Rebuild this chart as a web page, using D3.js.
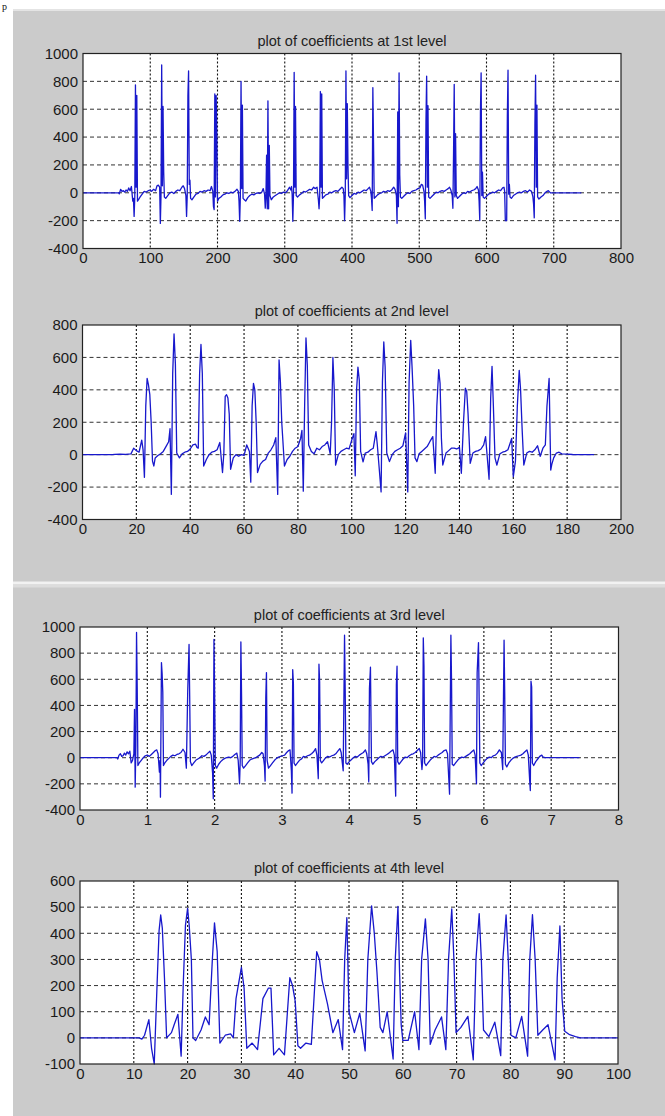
<!DOCTYPE html>
<html>
<head>
<meta charset="utf-8">
<script src="https://cdn.jsdelivr.net/npm/d3@7"></script>
<style>
  html, body { margin: 0; padding: 0; background: #fff; }
  svg { display: block; }
</style>
</head>
<body>
<svg id="chart" width="665" height="1116"></svg>
<script>
// titles and ticks
const titles = [
  "plot of coefficients at 1st level",
  "plot of coefficients at 2nd level",
  "plot of coefficients at 3rd level",
  "plot of coefficients at 4th level"
];
const xTicks1 = [0, 100, 200, 300, 400, 500, 600, 700, 800];
const yTicks1 = [-400, -200, 0, 200, 400, 600, 800, 1000];
const xTicks2 = [0, 20, 40, 60, 80, 100, 120, 140, 160, 180, 200];
const yTicks2 = [-400, -200, 0, 200, 400, 600, 800];
const xTicks3 = [0, 1, 2, 3, 4, 5, 6, 7, 8];
const yTicks3 = [-400, -200, 0, 200, 400, 600, 800, 1000];
const xTicks4 = [0, 10, 20, 30, 40, 50, 60, 70, 80, 90, 100];
const yTicks4 = [-100, 0, 100, 200, 300, 400, 500, 600];

// coefficients as [index, value]
const level1 = [
  [0,0],[53,0],[54,-8],[56,25],[58,10],[60,15],[62,5],[64,20],[66,10],[68,35],[70,15],[72,45],[74,-60],[75,-40],[76,-170],[77,-30],[78,775],[79,40],[80,700],[81,-60],[83,-45],[85,-30],[88,-10],[91,10],[94,5],[97,15],[100,20],[102,10],[105,25],[108,15],[110,50],[112,55],[114,40],
  [115,-220],[116,-20],[117,918],[118,50],[119,620],[120,150],[121,-30],[123,-40],[126,-20],[129,0],[132,5],[135,-5],[138,10],[141,20],[144,15],[147,40],[149,50],[151,30],[153,-20],
  [154,-170],[155,-20],[156,700],[157,875],[158,60],[159,90],[160,-40],[162,-50],[165,-30],[168,-10],[171,-5],[174,10],[177,5],[180,15],[183,10],[186,20],[189,15],[191,45],[193,10],[194,-100],
  [195,-120],[196,710],[197,-30],[198,700],[199,410],[200,-60],[202,-40],[205,-30],[208,-15],[211,-10],[214,0],[217,-5],[220,5],[223,0],[226,10],[229,25],[231,10],[232,-60],
  [233,-205],[234,-20],[235,800],[236,30],[237,630],[238,-40],[240,-50],[242,-60],[245,-35],[248,-20],[251,-10],[254,-15],[257,-5],[260,0],[263,-5],[266,5],[268,30],[270,-10],
  [271,-110],[272,-30],[273,270],[274,-115],[275,660],[276,-115],[277,340],[278,-20],[280,-50],[283,-30],[286,-20],[289,-10],[292,0],[295,-5],[298,5],[301,0],[304,15],[307,40],[309,20],[310,45],
  [311,-10],[312,-205],[313,-10],[314,865],[315,40],[316,620],[317,-20],[319,-30],[322,-15],[325,-5],[328,10],[331,5],[334,15],[337,25],[340,20],[343,40],[345,30],[348,40],[350,-50],
  [351,-115],[352,-20],[353,727],[354,40],[355,710],[356,-40],[358,-30],[361,-15],[364,-10],[367,5],[370,0],[373,10],[376,15],[379,10],[382,25],[385,40],[387,30],[388,-20],
  [389,-200],[390,-10],[391,875],[392,100],[393,640],[394,200],[395,-20],[397,-35],[400,-20],[403,-5],[406,-10],[409,5],[412,0],[415,10],[418,20],[421,15],[424,30],[426,40],[428,10],
  [429,-40],[430,-127],[431,755],[432,360],[433,-40],[435,-30],[438,-15],[441,-5],[444,0],[447,10],[450,5],[453,15],[456,10],[459,20],[462,40],[464,25],[466,-20],
  [467,-219],[468,580],[469,-100],[470,861],[471,130],[472,-30],[474,-40],[477,-25],[480,-10],[483,0],[486,-5],[489,10],[492,15],[495,20],[498,30],[501,35],[503,60],[505,55],[507,10],
  [508,-60],[509,-187],[510,520],[511,837],[512,40],[513,625],[514,-30],[516,-40],[519,-25],[522,-10],[525,5],[528,0],[531,10],[534,15],[537,10],[540,20],[543,30],[545,40],[547,20],[549,-20],
  [550,-111],[551,280],[552,779],[553,-30],[554,424],[555,-20],[557,-40],[560,-25],[563,-10],[566,0],[569,-5],[572,10],[575,5],[578,15],[581,20],[584,30],[586,45],[588,20],[589,-60],
  [590,-199],[591,580],[592,861],[593,-20],[594,148],[595,-30],[597,-40],[600,-25],[603,-10],[606,-5],[609,5],[612,0],[615,10],[618,20],[621,15],[624,35],[626,40],[627,10],
  [628,-200],[630,-200],[631,550],[632,880],[633,-10],[634,60],[635,-30],[637,-40],[640,-20],[643,-10],[646,0],[649,5],[652,0],[655,10],[658,15],[661,5],[664,20],[667,10],[669,-30],
  [670,-80],[671,-180],[672,500],[673,844],[674,40],[675,630],[676,-30],[678,-45],[681,-30],[684,-20],[687,0],[690,10],[692,15],[694,5],[695,0],[741,0]
];

const level2 = [
  [0,0],[11,0],[12,2],[14,3],[16,2],[18,5],[19,40],[20,25],[21,15],[22,90],[22.5,30],[23,-140],[23.5,300],[24,470],[24.5,430],[25,370],[25.5,200],[26,-40],[26.5,-70],[27,-20],[28,-5],[29,5],[30,20],[31,50],[32,80],[32.5,160],[33,-245],[33.5,500],[34,745],[34.5,560],[35,10],[36,-20],[37,5],[38,15],[39,20],[40,35],[41,60],[42,65],[42.5,45],[43,40],[43.5,500],[44,680],[44.5,500],[45,-70],[46,-30],[47,0],[48,15],[49,20],[50,30],[51,75],[52,-110],[52.5,10],[53,360],[53.5,370],[54,350],[54.5,250],[55,-90],[56,-20],[57,0],[58,-10],[59,0],[60,-5],[61,60],[62,20],[62.5,-170],[63,300],[63.5,440],[64,400],[64.5,200],[65,-110],[66,-60],[67,-40],[68,-30],[69,10],[70,30],[71,60],[71.8,105],[72.5,-245],[73,585],[73.5,450],[74,200],[75,-70],[76,-30],[77,-10],[78,20],[79,40],[80,50],[81,100],[81.5,150],[82,-225],[82.5,300],[83,720],[83.5,550],[84,60],[85,20],[86,5],[87,40],[88,30],[89,50],[90,60],[91,80],[92,5],[92.5,200],[93,600],[93.5,400],[94,-65],[95,0],[96,20],[97,30],[98,40],
  [99,35],[100,90],[100.8,130],[101.3,-130],[101.8,400],[102.3,540],[102.8,460],[103.3,20],[104.2,-45],[105,10],[106,15],[107,30],[108,40],[109,142],[109.5,60],[110.9,-230],[111.4,450],[111.9,695],[112.4,540],[113,10],[114,-43],[115,0],[116,20],[117,30],[118,40],[119,55],[120,135],[120.8,-230],[121.3,450],[121.9,705],[122.4,540],[123,300],[123.5,-20],[124.2,-43],[125,5],[126,20],[127,35],[128,50],[129,80],[130.1,111],[131,-115],[131.6,300],[132.3,525],[132.8,440],[133.3,100],[133.8,-64],[135,10],[136,25],[137,40],[138,40],[139,35],[140,45],[140.7,-115],[141.5,200],[142.2,410],[142.7,390],[143.2,250],[144,-54],[145,10],[146,20],[147,25],[148,35],[149,60],[149.7,111],[151,-152],[151.6,350],[152.1,545],[152.6,300],[153.2,-20],[153.9,-64],[155,5],[156,15],[157,20],[158,30],[159.4,100],[160,-136],[160.8,-40],[161.5,300],[162.2,520],[162.7,400],[163.3,150],[163.9,-64],[165,10],[166,20],[167,15],[168,30],[169,55],[170,-10],[171,40],[171.9,60],[172.5,300],[173.3,470],[173.9,-95],[174.3,-60],[175,-20],[176,10],[177,15],[178,5],[180,3],[182,1],[190,0]
];

const level3 = [
  [0,0],[0.55,0],[0.56,-10],[0.58,20],[0.60,30],[0.62,10],[0.64,15],[0.66,35],[0.68,20],[0.70,45],[0.72,30],[0.74,50],[0.76,-40],[0.78,-20],[0.80,30],[0.81,370],[0.82,-225],[0.83,100],[0.84,958],[0.85,533],[0.86,-60],[0.88,-40],[0.91,-20],[0.94,0],[0.97,15],[1.00,20],[1.03,10],[1.06,25],[1.09,40],[1.12,55],[1.14,60],[1.16,30],[1.18,-110],[1.19,-20],[1.195,-302],[1.21,728],[1.22,644],[1.23,500],[1.24,-60],[1.26,-40],[1.29,-20],[1.32,-5],[1.35,10],[1.38,20],[1.41,15],[1.44,25],[1.47,30],[1.50,40],[1.53,65],[1.56,40],[1.58,-80],[1.60,500],[1.62,866],[1.63,444],[1.64,-30],[1.66,-60],[1.69,-40],[1.72,-20],[1.75,-10],[1.78,0],[1.81,15],[1.84,10],[1.87,20],[1.90,35],[1.93,50],[1.95,20],[1.97,-120],[1.98,-314],[1.99,906],[2.00,500],[2.01,-60],[2.03,-80],[2.06,-50],[2.09,-30],[2.12,-15],[2.15,-5],[2.18,0],[2.21,5],[2.24,0],[2.27,10],[2.30,25],[2.33,35],[2.35,-20],[2.37,-199],[2.38,-30],[2.39,886],[2.40,480],[2.41,-60],[2.43,-80],[2.46,-60],[2.49,-40],[2.52,-20],[2.55,-10],[2.58,-5],[2.61,0],[2.64,10],[2.67,20],[2.70,40],[2.72,30],[2.74,-60],[2.75,-179],[2.76,460],[2.77,651],[2.78,-20],[2.80,-80],[2.83,-60],[2.86,-40],[2.89,-20],[2.92,-5],[2.95,5],[2.98,10],[3.01,15],[3.04,20],[3.07,40],[3.10,55],[3.12,60],[3.14,-100],[3.15,-271],[3.16,674],[3.17,570],[3.18,-40],[3.20,-60],[3.23,-40],[3.26,-20],[3.29,-10],[3.32,10],[3.35,5],[3.38,15],[3.41,20],[3.44,30],[3.47,45],[3.50,70],[3.52,20],[3.54,-160],[3.55,715],[3.56,580],[3.57,-20],[3.59,-40],[3.62,-20],[3.65,0],[3.68,10],[3.71,5],[3.74,15],[3.77,20],[3.80,30],[3.83,50],[3.86,70],[3.88,40],[3.91,-100],[3.93,937],[3.94,510],[3.95,-40],[3.97,-50],[4.00,-30],[4.03,-15],[4.06,0],[4.09,10],[4.12,5],[4.15,20],[4.18,30],[4.21,40],[4.24,60],[4.26,30],[4.28,-50],[4.29,-185],[4.30,530],[4.315,692],[4.33,-30],[4.35,-50],[4.38,-30],[4.41,-15],[4.44,0],[4.47,10],[4.50,5],[4.53,15],[4.56,25],[4.59,35],[4.62,50],[4.65,60],[4.67,20],[4.69,-294],[4.70,560],[4.71,700],[4.72,-30],[4.74,-50],[4.77,-30],[4.80,-10],[4.83,5],[4.86,0],[4.89,15],[4.92,25],[4.95,30],[4.98,40],[5.01,55],[5.04,70],[5.06,40],[5.08,-90],[5.09,-30],[5.10,917],[5.11,700],[5.12,-40],[5.14,-60],[5.17,-40],[5.20,-20],[5.23,-5],[5.26,10],[5.29,5],[5.32,20],[5.35,30],[5.38,40],[5.41,55],[5.44,60],[5.46,30],[5.49,-279],[5.51,937],[5.52,570],[5.53,-50],[5.55,-60],[5.58,-40],[5.61,-20],[5.64,-5],[5.67,5],[5.70,0],[5.73,10],[5.76,20],[5.79,30],[5.82,45],[5.85,60],[5.87,20],[5.89,-200],[5.90,650],[5.92,881],[5.93,430],[5.94,-40],[5.96,-60],[5.99,-40],[6.02,-20],[6.05,-5],[6.08,5],[6.11,0],[6.14,15],[6.17,20],[6.20,35],[6.23,60],[6.26,40],[6.28,-90],[6.30,899],[6.31,470],[6.32,-50],[6.34,-70],[6.37,-40],[6.40,-20],[6.43,-5],[6.46,5],[6.49,10],[6.52,15],[6.55,20],[6.58,30],[6.61,45],[6.64,60],[6.66,20],[6.68,-170],[6.69,-251],[6.70,585],[6.71,540],[6.72,-40],[6.74,-60],[6.77,-30],[6.80,-10],[6.83,10],[6.86,20],[6.88,5],[6.91,0],[7.42,0]
];

const level4 = [
  [0,0],[11,0],[11.5,-5],[12,10],[12.8,70],[13.3,-40],[13.8,-100],[14.3,190],[14.7,410],[15,470],[15.3,420],[15.7,230],[16.1,0],[17,20],[17.5,50],[18.2,90],[18.8,-70],[19.2,210],[19.6,430],[20,495],[20.3,430],[20.7,300],[21,0],[21.5,-10],[22,10],[22.5,30],[23.3,80],[24,50],[24.6,300],[25,440],[25.5,330],[26,-20],[27,10],[28,15],[28.5,0],[29,150],[30,270],[30.5,190],[31,-40],[32,-20],[33,-45],[34,150],[35,190],[35.5,190],[36,-65],[37,-40],[38,-65],[39,230],[39.5,200],[40,140],[40.5,-30],[41,-40],[42,-20],[43,-25],[44,330],[44.5,300],[45,220],[46,130],[47,20],[48,70],[48.8,-45],[49.2,300],[49.6,460],[50,100],[50.5,60],[51,20],[52,94],[53,-50],[53.5,300],[54.2,505],[54.7,400],[55.2,250],[55.8,40],[56.3,20],[57.1,100],[58.2,-81],[58.6,300],[59.1,503],[59.4,250],[59.7,50],[60,-10],[61,-10],[62.2,100],[63,-45],[63.5,300],[64.2,455],[64.7,300],[65.1,-25],[66,30],[67.2,80],[68,-45],[68.5,300],[69.1,493],[69.5,300],[69.9,20],[70.8,40],[72.1,82],[73.1,-84],[73.6,300],[74.2,475],[74.6,300],[75,30],[76,5],[77.1,60],[78.2,-68],[78.6,300],[79.2,470],[79.6,300],[80.1,10],[81,0],[82.1,82],[83.2,-70],[83.6,300],[84.1,471],[84.6,300],[85.1,10],[86,30],[87,50],[88.3,-84],[88.7,230],[89.2,428],[89.6,150],[90.1,25],[91,12],[92.1,5],[93,0],[100,0]
];

const panels = [
  { data: level1, xTicks: xTicks1, yTicks: yTicks1, left: 83, right: 621, top: 53.5, bottom: 248.5, titleY: 46 },
  { data: level2, xTicks: xTicks2, yTicks: yTicks2, left: 82.5, right: 621, top: 325, bottom: 519.5, titleY: 316 },
  { data: level3, xTicks: xTicks3, yTicks: yTicks3, left: 80, right: 618.5, top: 627, bottom: 810, titleY: 620 },
  { data: level4, xTicks: xTicks4, yTicks: yTicks4, left: 80, right: 618, top: 881, bottom: 1064, titleY: 873 }
];

const svg = d3.select("#chart");
const font = "'Liberation Sans', Arial, Helvetica, sans-serif";

// figure window background
svg.append("rect").attr("x", 13).attr("y", 11).attr("width", 652).attr("height", 1105).attr("fill", "#cbcbcb");
svg.append("rect").attr("x", 13).attr("y", 9).attr("width", 652).attr("height", 2).attr("fill", "#e4e4e4");
svg.append("rect").attr("x", 13).attr("y", 581.5).attr("width", 652).attr("height", 3).attr("fill", "#f2f2f2");
svg.append("rect").attr("x", 13).attr("y", 584.5).attr("width", 652).attr("height", 3).attr("fill", "#dddddd");
svg.append("text").attr("x", 2).attr("y", 10).attr("font-family", "'Liberation Serif', serif")
  .attr("font-size", 10).attr("fill", "#111").text("p");

panels.forEach((p, i) => {
  const x = d3.scaleLinear()
    .domain([p.xTicks[0], p.xTicks[p.xTicks.length - 1]])
    .range([p.left, p.right]);
  const y = d3.scaleLinear()
    .domain([p.yTicks[0], p.yTicks[p.yTicks.length - 1]])
    .range([p.bottom, p.top]);

  const g = svg.append("g");

  g.append("rect")
    .attr("x", p.left).attr("y", p.top)
    .attr("width", p.right - p.left).attr("height", p.bottom - p.top)
    .attr("fill", "#fff");

  // grid
  g.append("g").selectAll("line")
    .data(p.xTicks.slice(1, -1))
    .join("line")
    .attr("x1", d => x(d)).attr("x2", d => x(d))
    .attr("y1", p.top).attr("y2", p.bottom)
    .attr("stroke", "#111").attr("stroke-width", 1.1)
    .attr("stroke-dasharray", "2,2");

  g.append("g").selectAll("line")
    .data(p.yTicks.slice(1, -1))
    .join("line")
    .attr("x1", p.left).attr("x2", p.right)
    .attr("y1", d => y(d)).attr("y2", d => y(d))
    .attr("stroke", "#333").attr("stroke-width", 1)
    .attr("stroke-dasharray", "4,3");

  // signal
  const line = d3.line().x(d => x(d[0])).y(d => y(d[1]));
  g.append("path")
    .datum(p.data)
    .attr("d", line)
    .attr("fill", "none")
    .attr("stroke", "#1818cc")
    .attr("stroke-width", 1.3)
    .attr("stroke-linejoin", "round");

  // box
  g.append("rect")
    .attr("x", p.left).attr("y", p.top)
    .attr("width", p.right - p.left).attr("height", p.bottom - p.top)
    .attr("fill", "none").attr("stroke", "#222").attr("stroke-width", 1.2);

  // axes
  const ax = g.append("g")
    .attr("transform", `translate(0,${p.bottom})`)
    .call(d3.axisBottom(x).tickValues(p.xTicks).tickSize(0).tickPadding(4).tickFormat(d => String(d)));
  const ay = g.append("g")
    .attr("transform", `translate(${p.left},0)`)
    .call(d3.axisLeft(y).tickValues(p.yTicks).tickSize(0).tickPadding(5).tickFormat(d => String(d)));
  [ax, ay].forEach(a => {
    a.select(".domain").remove();
    a.selectAll("text").attr("font-family", font).attr("font-size", 15).attr("fill", "#1a1a1a");
  });

  g.append("text")
    .attr("x", (p.left + p.right) / 2)
    .attr("y", p.titleY)
    .attr("text-anchor", "middle")
    .attr("font-family", font)
    .attr("font-size", 14.5)
    .attr("fill", "#222")
    .text(titles[i]);
});
</script>
</body>
</html>
